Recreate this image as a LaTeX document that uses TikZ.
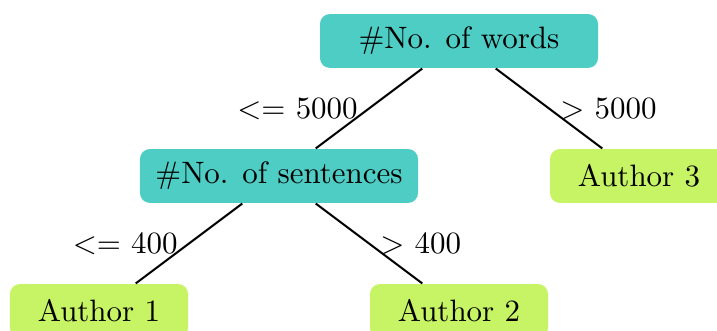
\documentclass[tikz,border=0pt]{standalone}
\usetikzlibrary{positioning}
\definecolor{splitcol}{HTML}{4ECDC4}
\definecolor{leafcol}{HTML}{C7F464}
\begin{document}
\begin{tikzpicture}[x=0.323pt,y=-0.323pt,
  splitnode/.style={fill=splitcol, rounded corners=3.2pt, minimum width=89.8pt, minimum height=17.4pt, inner sep=2pt},
  leafnode/.style={fill=leafcol, rounded corners=3.2pt, minimum width=57.5pt, minimum height=17.4pt, inner sep=2pt},
  branch/.style={line width=0.65pt}]
  \useasboundingbox (0,0) rectangle (717,331);
  % decision nodes
  \node[splitnode] (words) at (459,41) {\#No. of words};
  \node[splitnode] (sent)  at (279,176) {\#No. of sentences};
  % leaves
  \node[leafnode] (a3) at (639,176) {Author 3};
  \node[leafnode] (a1) at (99,311)  {Author 1};
  \node[leafnode] (a2) at (459,311) {Author 2};
  % branches
  \draw[branch] (words) -- node[midway,left] {$<=$ 5000} (sent);
  \draw[branch] (words) -- node[midway,right] {$>$ 5000} (a3);
  \draw[branch] (sent) -- node[midway,left] {$<=$ 400} (a1);
  \draw[branch] (sent) -- node[midway,right] {$>$ 400} (a2);
\end{tikzpicture}
\end{document}
